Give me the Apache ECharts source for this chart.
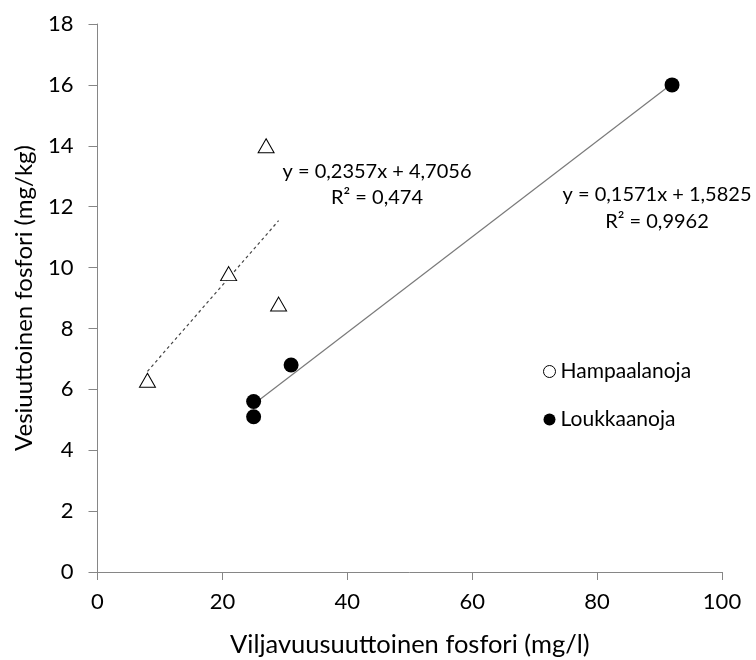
<!DOCTYPE html>
<html>
<head>
<meta charset="utf-8">
<script src="https://cdn.jsdelivr.net/npm/echarts@6/dist/echarts.min.js"></script>
<style>
  html, body { margin: 0; padding: 0; background: #fff; }
  #chart { width: 756px; height: 660px; }
</style>
</head>
<body>
<div id="chart"></div>
<script>
// Hampaalanoja samples: [Viljavuusuuttoinen P, Vesiuuttoinen P]
var hampaalanojaX = [8, 21, 27, 29];
var hampaalanojaY = [6.3, 9.8, 14, 8.8];
// Loukkaanoja samples
var loukkaanojaX = [25, 25, 31, 92];
var loukkaanojaY = [5.6, 5.1, 6.8, 16];

// Linear fits (slope, intercept, R²) as printed on the chart
var hampaalanojaFit = { slope: 0.2357, intercept: 4.7056, r2: '0,474', label: 'y = 0,2357x + 4,7056' };
var loukkaanojaFit = { slope: 0.1571, intercept: 1.5825, r2: '0,9962', label: 'y = 0,1571x + 1,5825' };

var xTicks = [0, 20, 40, 60, 80, 100];
var yTicks = [0, 2, 4, 6, 8, 10, 12, 14, 16, 18];

function pairs(xs, ys) {
  return xs.map(function (x, i) { return [x, ys[i]]; });
}
// Endpoints of a fitted line over the x-range of its samples
function fitLine(fit, xs) {
  var lo = Math.min.apply(null, xs), hi = Math.max.apply(null, xs);
  return [[lo, fit.slope * lo + fit.intercept], [hi, fit.slope * hi + fit.intercept]];
}

var FONT = 'Lato';
var axisColor = '#868686';

function eqText(x, y, text) {
  return {
    type: 'text', x: x, y: y, silent: true,
    style: { text: text, font: '20px ' + FONT, fill: '#000', align: 'center', verticalAlign: 'middle' }
  };
}

var chart = echarts.init(document.getElementById('chart'), null, { renderer: 'canvas' });
chart.setOption({
  animation: false,
  backgroundColor: '#ffffff',
  textStyle: { fontFamily: FONT, color: '#000' },
  grid: { left: 97.5, right: 34, top: 24, bottom: 88, containLabel: false, outerBoundsMode: 'none' },
  xAxis: {
    type: 'value', min: xTicks[0], max: xTicks[xTicks.length - 1], interval: 20,
    name: 'Viljavuusuuttoinen fosfori (mg/l)', nameLocation: 'middle', nameGap: 60,
    nameTextStyle: { fontFamily: FONT, fontSize: 25.5, color: '#000' },
    axisLine: { lineStyle: { color: axisColor, width: 1 } },
    axisTick: { show: true, length: 8, inside: false, lineStyle: { color: axisColor } },
    axisLabel: { fontFamily: FONT, fontSize: 22, color: '#000', margin: 19 },
    splitLine: { show: false }
  },
  yAxis: {
    type: 'value', min: yTicks[0], max: yTicks[yTicks.length - 1], interval: 2,
    name: 'Vesiuuttoinen fosfori (mg/kg)', nameLocation: 'middle', nameGap: 61,
    nameTextStyle: { fontFamily: FONT, fontSize: 24, color: '#000' },
    axisLine: { show: true, lineStyle: { color: axisColor, width: 1 } },
    axisTick: { show: true, length: 9, inside: false, lineStyle: { color: axisColor } },
    axisLabel: { fontFamily: FONT, fontSize: 22, color: '#000', margin: 24 },
    splitLine: { show: false }
  },
  legend: {
    orient: 'vertical', left: 538, top: 356,
    itemWidth: 12, itemHeight: 12, itemGap: 27,
    textStyle: { fontFamily: FONT, fontSize: 21, color: '#000' },
    data: [
      { name: 'Hampaalanoja', icon: 'circle', itemStyle: { color: '#fff', borderColor: '#000', borderWidth: 1 } },
      { name: 'Loukkaanoja', icon: 'circle', itemStyle: { color: '#000' } }
    ]
  },
  series: [
    {
      name: 'Hampaalanoja fit', type: 'line', data: fitLine(hampaalanojaFit, hampaalanojaX),
      symbol: 'none', silent: true,
      lineStyle: { color: '#444', width: 1.2, type: [3, 3] }, z: 1
    },
    {
      name: 'Loukkaanoja fit', type: 'line', data: fitLine(loukkaanojaFit, loukkaanojaX),
      symbol: 'none', silent: true,
      lineStyle: { color: '#7a7a7a', width: 1.2 }, z: 1
    },
    {
      name: 'Hampaalanoja', type: 'scatter', data: pairs(hampaalanojaX, hampaalanojaY),
      symbol: 'triangle', symbolSize: [16, 14],
      itemStyle: { color: '#fff', borderColor: '#000', borderWidth: 1, opacity: 1 }, z: 3
    },
    {
      name: 'Loukkaanoja', type: 'scatter', data: pairs(loukkaanojaX, loukkaanojaY),
      symbol: 'circle', symbolSize: 15,
      itemStyle: { color: '#000', opacity: 1 }, z: 3
    }
  ],
  graphic: [
    eqText(377, 172, hampaalanojaFit.label),
    eqText(377, 198, 'R² = ' + hampaalanojaFit.r2),
    eqText(657, 195, loukkaanojaFit.label),
    eqText(657, 222, 'R² = ' + loukkaanojaFit.r2)
  ]
});
</script>
</body>
</html>
